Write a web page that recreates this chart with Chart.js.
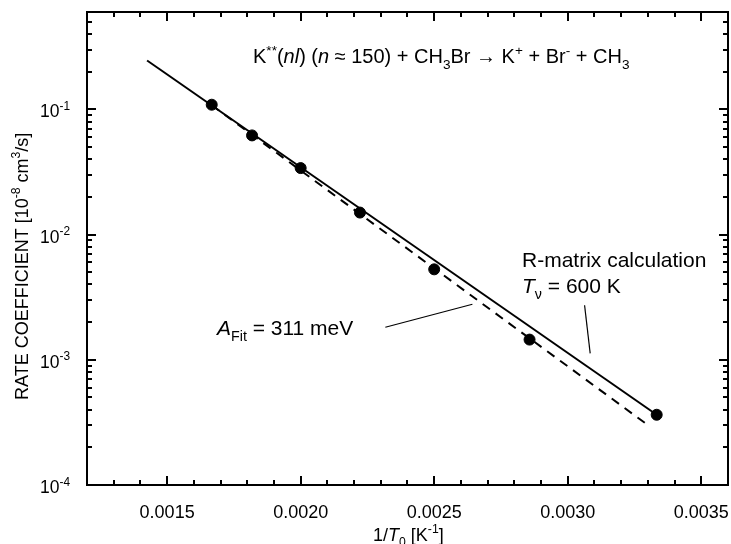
<!DOCTYPE html>
<html lang="en">
<head>
<meta charset="UTF-8">
<title>Rate coefficient vs 1/T0</title>
<script src="https://cdn.jsdelivr.net/npm/chart.js@4.4.1/dist/chart.umd.min.js"></script>
<style>
  body { margin: 0; background: white; }
  #wrap { width: 731px; height: 544px; }
</style>
</head>
<body>
<div id="wrap"><canvas id="rateChart" width="731" height="544"></canvas></div>
<script>
// measured rate coefficients: 1/T0 [1/K] and k [1e-8 cm3/s]
const invT = [0.001667, 0.001818, 0.002000, 0.002222, 0.002500, 0.002857, 0.003333];
const rate = [0.109, 0.062, 0.034, 0.015, 0.00528, 0.00145, 0.000364];

// R-matrix calculation (solid) and Arrhenius fit (dashed), end points
const rmatrixX = [0.001425, 0.003333];
const rmatrixY = [0.246, 0.000364];
const fitX = [0.001667, 0.003290];
const fitY = [0.108, 0.000312];

// leader lines from the labels to the curves
const fitLeaderX = [0.002317, 0.002643];
const fitLeaderY = [0.00182, 0.00278];
const rmLeaderX = [0.003063, 0.003084];
const rmLeaderY = [0.00273, 0.001125];

// axis ticks
const xTicks = [0.0015, 0.0020, 0.0025, 0.0030, 0.0035];
const yTicks = [1e-4, 1e-3, 1e-2, 1e-1];
const yTickExp = ['-4', '-3', '-2', '-1'];

const FONT = '"Liberation Sans", Arial, Helvetica, sans-serif';

const pts = (xs, ys) => xs.map((v, i) => ({ x: v, y: ys[i] }));

// text with italic / superscript / subscript pieces
function rich(ctx, x, y, parts, size, alignRight) {
    const fontOf = p => {
        let s = size, dy = 0;
        if (p.sup) { s = size * 0.68; dy = -size * 0.42; }
        if (p.sub) { s = size * 0.68; dy = size * 0.28; }
        return { f: (p.i ? 'italic ' : '') + s + 'px ' + FONT, dy };
    };
    if (alignRight) {
        let w = 0;
        parts.forEach(p => { ctx.font = fontOf(p).f; w += ctx.measureText(p.t).width; });
        x -= w;
    }
    parts.forEach(p => {
        const { f, dy } = fontOf(p);
        ctx.font = f;
        ctx.fillText(p.t, x, y + dy);
        x += ctx.measureText(p.t).width;
    });
}

const frame = {
    id: 'frame',
    afterDraw(chart) {
        const { ctx, chartArea: a, scales: { x, y } } = chart;
        ctx.save();
        ctx.strokeStyle = '#000';
        ctx.lineWidth = 2;
        ctx.strokeRect(a.left, a.top, a.right - a.left, a.bottom - a.top);

        ctx.beginPath();
        for (let i = 13; i <= 35; i++) {
            const px = Math.round(x.getPixelForValue(i / 10000));
            const len = i % 5 === 0 ? 9 : 5;
            ctx.moveTo(px, a.bottom); ctx.lineTo(px, a.bottom - len);
            ctx.moveTo(px, a.top); ctx.lineTo(px, a.top + len);
        }
        for (let e = -4; e <= -1; e++) {
            for (let m = 1; m <= 9; m++) {
                const v = m * Math.pow(10, e);
                if (v > 0.6 || (m === 1 && e === -4)) continue;
                const py = Math.round(y.getPixelForValue(v));
                const len = m === 1 ? 9 : 5;
                ctx.moveTo(a.left, py); ctx.lineTo(a.left + len, py);
                ctx.moveTo(a.right, py); ctx.lineTo(a.right - len, py);
            }
        }
        ctx.stroke();

        ctx.fillStyle = '#000';
        ctx.textBaseline = 'alphabetic';
        ctx.textAlign = 'left';

        // y tick labels 10^n
        yTicks.forEach((v, i) => {
            const py = y.getPixelForValue(v);
            rich(ctx, a.left - 17, py + 8, [{ t: '10' }, { t: yTickExp[i], sup: true }], 17.5, true);
        });

        rich(ctx, 253, 63, [
            { t: 'K' }, { t: '**', sup: true }, { t: '(' }, { t: 'nl', i: true },
            { t: ') (' }, { t: 'n', i: true }, { t: ' ≈ 150) + CH' }, { t: '3', sub: true },
            { t: 'Br → K' }, { t: '+', sup: true }, { t: ' + Br' }, { t: '-', sup: true },
            { t: ' + CH' }, { t: '3', sub: true }
        ], 20);

        rich(ctx, 522, 267, [{ t: 'R-matrix calculation' }], 21);
        rich(ctx, 522, 293, [{ t: 'T', i: true }, { t: 'ν', sub: true }, { t: ' = 600 K' }], 21);
        rich(ctx, 217, 335, [{ t: 'A', i: true }, { t: 'Fit', sub: true }, { t: ' = 311 meV' }], 21);

        rich(ctx, 373, 541, [
            { t: '1/' }, { t: 'T', i: true }, { t: '0', sub: true },
            { t: ' [K' }, { t: '-1', sup: true }, { t: ']' }
        ], 18);

        ctx.translate(28, 400);
        ctx.rotate(-Math.PI / 2);
        rich(ctx, 0, 0, [
            { t: 'RATE COEFFICIENT [10' }, { t: '-8', sup: true }, { t: ' cm' },
            { t: '3', sup: true }, { t: '/s]' }
        ], 18);
        ctx.restore();
    }
};

new Chart(document.getElementById('rateChart'), {
    type: 'scatter',
    data: {
        datasets: [
            {
                label: 'Experiment',
                data: pts(invT, rate),
                backgroundColor: '#000',
                borderColor: '#000',
                pointRadius: 5.5,
                order: 0
            },
            {
                label: 'R-matrix calculation',
                data: pts(rmatrixX, rmatrixY),
                showLine: true,
                borderColor: '#000',
                borderWidth: 2,
                pointRadius: 0,
                order: 1
            },
            {
                label: 'Fit',
                data: pts(fitX, fitY),
                showLine: true,
                borderColor: '#000',
                borderWidth: 2,
                borderDash: [9, 7],
                pointRadius: 0,
                order: 2
            },
            {
                label: 'fit leader',
                data: pts(fitLeaderX, fitLeaderY),
                showLine: true,
                borderColor: '#000',
                borderWidth: 1.2,
                pointRadius: 0,
                order: 3
            },
            {
                label: 'R-matrix leader',
                data: pts(rmLeaderX, rmLeaderY),
                showLine: true,
                borderColor: '#000',
                borderWidth: 1.2,
                pointRadius: 0,
                order: 3
            }
        ]
    },
    options: {
        responsive: false,
        animation: false,
        layout: { autoPadding: false, padding: { left: 0, right: 3, top: 12, bottom: 0 } },
        plugins: { legend: { display: false }, tooltip: { enabled: false } },
        scales: {
            x: {
                type: 'linear',
                min: 0.0012,
                max: 0.0036,
                grid: { display: false },
                border: { display: false },
                afterBuildTicks: s => { s.ticks = xTicks.map(v => ({ value: v })); },
                afterFit: s => { s.height = 59; s.paddingLeft = 0; s.paddingRight = 0; },
                ticks: {
                    color: '#000',
                    font: { family: FONT, size: 18 },
                    padding: 9,
                    maxRotation: 0,
                    autoSkip: false,
                    callback: v => v.toFixed(4)
                }
            },
            y: {
                type: 'logarithmic',
                min: 1e-4,
                max: 0.6,
                grid: { display: false },
                border: { display: false },
                afterBuildTicks: s => { s.ticks = yTicks.map(v => ({ value: v })); },
                afterFit: s => { s.width = 87; s.paddingTop = 0; s.paddingBottom = 0; },
                ticks: { display: false }
            }
        }
    },
    plugins: [frame]
});
</script>
</body>
</html>
